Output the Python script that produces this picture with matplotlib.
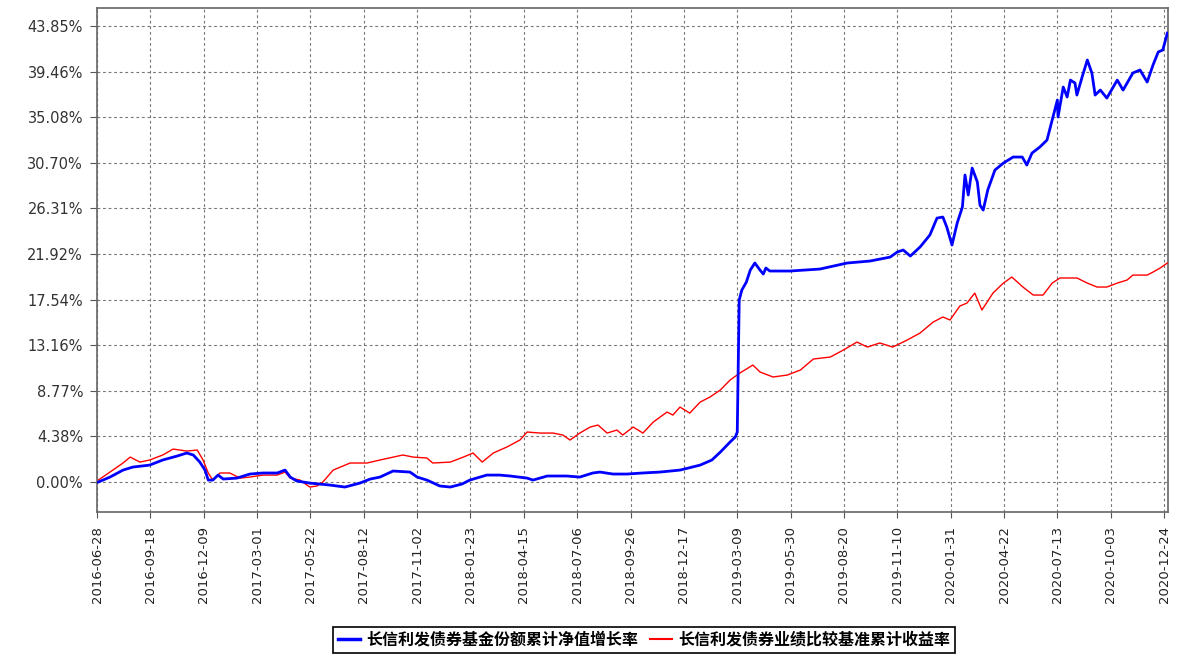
import matplotlib
matplotlib.use('Agg')
import matplotlib.pyplot as plt
from matplotlib.lines import Line2D
import pandas as pd

# ---------------- data ----------------
start_date = '2016-06-28'          # fund inception; x values are days since this date
end_days = 1646                    # last day shown (about 2020-12-30)

blue_days = [2, 20, 40, 55, 81, 101, 123, 138, 148, 158, 166, 171, 178, 186, 194, 215, 235, 255,
             277, 289, 297, 307, 327, 358, 381, 404, 420, 435, 455, 481, 492, 507, 527, 543, 561,
             573, 599, 619, 635, 661, 670, 692, 722, 742, 762, 773, 793, 815, 838, 865, 896, 927,
             945, 958, 973, 981, 984, 987, 991, 998, 1004, 1011, 1019, 1024, 1028, 1034, 1065,
             1111, 1153, 1188, 1219, 1230, 1239, 1250, 1265, 1280, 1291, 1300, 1306, 1314, 1322,
             1330, 1334, 1339, 1345, 1353, 1357, 1362, 1369, 1380, 1393, 1408, 1422, 1429, 1437,
             1449, 1460, 1468, 1476, 1477, 1485, 1491, 1496, 1503, 1506, 1514, 1522, 1529, 1534,
             1542, 1552, 1568, 1577, 1592, 1603, 1614, 1623, 1631, 1638, 1645]
blue_vals = [0.00, 0.48, 1.15, 1.44, 1.63, 2.12, 2.50, 2.79, 2.60, 1.92, 1.15, 0.19, 0.19, 0.67,
             0.29, 0.38, 0.77, 0.87, 0.87, 1.15, 0.48, 0.10, -0.10, -0.29, -0.48, -0.10, 0.29,
             0.48, 1.06, 0.96, 0.48, 0.19, -0.38, -0.48, -0.19, 0.19, 0.67, 0.67, 0.58, 0.38,
             0.19, 0.58, 0.58, 0.48, 0.87, 0.96, 0.77, 0.77, 0.87, 0.96, 1.15, 1.63, 2.12, 2.88,
             3.85, 4.33, 4.81, 17.50, 18.46, 19.23, 20.38, 21.06, 20.38, 20.00, 20.58, 20.29,
             20.29, 20.48, 21.06, 21.25, 21.63, 22.12, 22.31, 21.73, 22.60, 23.75, 25.38, 25.48,
             24.52, 22.79, 24.90, 26.44, 29.52, 27.60, 30.19, 28.85, 26.63, 26.15, 28.08, 30.00,
             30.67, 31.25, 31.25, 30.48, 31.63, 32.21, 32.88, 34.81, 36.73, 35.10, 37.98, 37.02,
             38.65, 38.37, 37.21, 38.94, 40.58, 39.33, 37.21, 37.69, 36.92, 38.65, 37.69, 39.33,
             39.62, 38.46, 40.10, 41.35, 41.54, 43.17]

red_days = [2, 20, 40, 51, 66, 81, 101, 117, 138, 154, 163, 171, 178, 189, 204, 220, 235, 255,
            277, 289, 297, 312, 327, 338, 347, 363, 389, 415, 435, 470, 486, 507, 516, 543, 563,
            578, 592, 609, 630, 650, 661, 681, 701, 716, 727, 742, 758, 770, 784, 799, 808, 824,
            839, 855, 876, 885, 896, 911, 927, 942, 958, 973, 988, 1008, 1019, 1039, 1061, 1081,
            1101, 1127, 1147, 1168, 1184, 1203, 1223, 1245, 1265, 1285, 1300, 1311, 1326, 1337,
            1349, 1360, 1377, 1393, 1406, 1423, 1439, 1454, 1468, 1480, 1506, 1522, 1537, 1552,
            1568, 1583, 1592, 1614, 1623, 1634, 1645]
red_vals = [0.19, 0.96, 1.83, 2.40, 1.92, 2.12, 2.60, 3.17, 2.98, 3.08, 2.12, 0.87, 0.19, 0.87,
            0.87, 0.38, 0.48, 0.67, 0.67, 0.96, 0.38, 0.19, -0.48, -0.38, 0.00, 1.15, 1.83, 1.83,
            2.12, 2.60, 2.40, 2.31, 1.83, 1.92, 2.40, 2.79, 1.92, 2.79, 3.37, 4.04, 4.81, 4.71,
            4.71, 4.52, 4.04, 4.71, 5.29, 5.48, 4.71, 5.00, 4.52, 5.29, 4.71, 5.77, 6.73, 6.44,
            7.21, 6.63, 7.69, 8.17, 8.85, 9.81, 10.48, 11.25, 10.58, 10.10, 10.29, 10.77, 11.83,
            12.02, 12.69, 13.46, 12.98, 13.37, 12.98, 13.65, 14.33, 15.38, 15.87, 15.58, 16.92,
            17.21, 18.17, 16.54, 18.17, 19.13, 19.71, 18.75, 17.98, 17.98, 19.13, 19.62, 19.62,
            19.13, 18.75, 18.75, 19.13, 19.42, 19.90, 19.90, 20.19, 20.58, 21.06]

ytick_vals = [0.00, 4.38, 8.77, 13.16, 17.54, 21.92, 26.31, 30.70, 35.08, 39.46, 43.85]
xtick_labels = ['2016-06-28', '2016-09-18', '2016-12-09', '2017-03-01', '2017-05-22',
                '2017-08-12', '2017-11-02', '2018-01-23', '2018-04-15', '2018-07-06',
                '2018-09-26', '2018-12-17', '2019-03-09', '2019-05-30', '2019-08-20',
                '2019-11-10', '2020-01-31', '2020-04-22', '2020-07-13', '2020-10-03',
                '2020-12-24']
series_labels = ['长信利发债券基金份额累计净值增长率', '长信利发债券业绩比较基准累计收益率']
series_colors = ['#0000ff', '#ff0000']

# ---------------- figure ----------------
t0 = pd.Timestamp(start_date)
blue_x = [t0 + pd.Timedelta(days=d) for d in blue_days]
red_x = [t0 + pd.Timedelta(days=d) for d in red_days]
xticks = pd.to_datetime(xtick_labels)

W, H = 1184, 655
fig = plt.figure(figsize=(W / 100, H / 100), dpi=100)
fig.patch.set_facecolor('white')
left, right, top, bottom = 97, 1168, 8, 512
ax = fig.add_axes([left / W, 1 - bottom / H, (right - left) / W, (bottom - top) / H])

ax.plot(red_x, red_vals, color=series_colors[1], lw=1.0, zorder=3)
ax.plot(blue_x, blue_vals, color=series_colors[0], lw=2.0, zorder=4)

ax.set_xlim(t0, t0 + pd.Timedelta(days=end_days))
ax.set_ylim(-2.88, 45.58)

ax.set_yticks(ytick_vals)
ax.set_yticklabels([f'{v:.2f}%' for v in ytick_vals], fontsize=10.5, color='#333333',
                   family='DejaVu Sans')
ax.set_xticks(xticks)
ax.set_xticklabels(xtick_labels, rotation=90, fontsize=9.5, color='#222222',
                   family='DejaVu Sans')
ax.tick_params(axis='y', length=5, width=0.8, color='#555555', pad=5)
ax.tick_params(axis='x', length=4, width=0.8, color='#555555', pad=6)

ax.grid(True, color='#777777', linestyle=(0, (2.5, 2.5)), linewidth=0.8)
for s in ax.spines.values():
    s.set_color('#666666')
    s.set_linewidth(1.2)

handles = [Line2D([], [], color=series_colors[0], lw=2.5),
           Line2D([], [], color=series_colors[1], lw=1.5)]
leg = fig.legend(handles, series_labels, loc='center', bbox_to_anchor=(644 / W, 1 - 640 / H),
                 ncol=2, frameon=True, fancybox=False, edgecolor='black', framealpha=1,
                 handlelength=1.4, handletextpad=0.4, columnspacing=0.7, borderpad=0.3,
                 prop={'family': ['Noto Sans CJK SC', 'DejaVu Sans'], 'size': 11.5,
                       'weight': 'bold'})
leg.get_frame().set_linewidth(1.2)

fig.savefig('out.png', dpi=100, facecolor='white')
